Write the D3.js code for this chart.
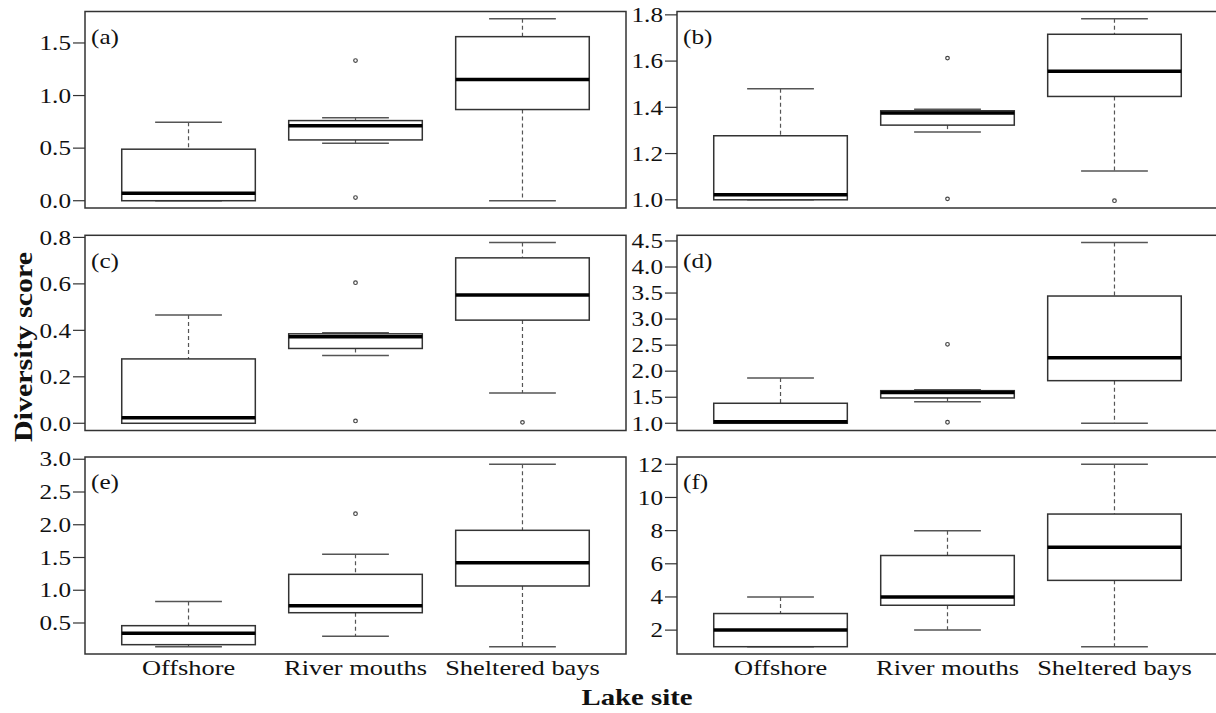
<!DOCTYPE html>
<html>
<head>
  <meta charset="utf-8">
  <title>Diversity score by lake site</title>
  <script src="https://d3js.org/d3.v7.min.js"></script>
  <style>
    body { margin: 0; background: #fff; }
    text { font-family: "Liberation Serif", "Times New Roman", serif; fill: #111; }
    .frame { fill: none; stroke: #333; stroke-width: 1.5px; }
    .box { fill: #fff; stroke: #333; stroke-width: 1.5px; }
    .median { stroke: #000; stroke-width: 3.5px; }
    .whisker { stroke: #555; stroke-width: 1.2px; stroke-dasharray: 4,3; }
    .cap { stroke: #555; stroke-width: 1.5px; }
    .outlier { fill: none; stroke: #444; stroke-width: 1.2px; }
    .tick line { stroke: #333; stroke-width: 1.2px; }
  </style>
</head>
<body>
<script>
  // Groups on the x axis, panel tags and y ticks
  const categories = ["Offshore", "River mouths", "Sheltered bays"];
  const panelLabels = ["(a)", "(b)", "(c)", "(d)", "(e)", "(f)"];
  const yTicks = [
    [0, 0.5, 1.0, 1.5],
    [1.0, 1.2, 1.4, 1.6, 1.8],
    [0, 0.2, 0.4, 0.6, 0.8],
    [1.0, 1.5, 2.0, 2.5, 3.0, 3.5, 4.0, 4.5],
    [0.5, 1.0, 1.5, 2.0, 2.5, 3.0],
    [2, 4, 6, 8, 10, 12]
  ];
  const tickFormats = [".1f", ".1f", ".1f", ".1f", ".1f", "d"];

  // Box statistics, one row per panel, one value per category
  const lowerWhisker = [
    [0.00, 0.547, 0.00],
    [1.00, 1.293, 1.125],
    [0.00, 0.292, 0.13],
    [1.00, 1.415, 1.00],
    [0.138, 0.297, 0.138],
    [1, 2, 1]
  ];
  const lowerHinge = [
    [0.00, 0.578, 0.867],
    [1.00, 1.323, 1.447],
    [0.00, 0.322, 0.444],
    [1.00, 1.486, 1.818],
    [0.169, 0.657, 1.065],
    [1, 3.5, 5]
  ];
  const medians = [
    [0.07, 0.714, 1.152],
    [1.022, 1.375, 1.556],
    [0.024, 0.372, 0.552],
    [1.03, 1.59, 2.26],
    [0.343, 0.764, 1.42],
    [2, 4, 7]
  ];
  const upperHinge = [
    [0.49, 0.762, 1.56],
    [1.277, 1.385, 1.716],
    [0.277, 0.385, 0.712],
    [1.384, 1.626, 3.443],
    [0.459, 1.243, 1.915],
    [3, 6.5, 9]
  ];
  const upperWhisker = [
    [0.746, 0.79, 1.73],
    [1.48, 1.392, 1.783],
    [0.466, 0.39, 0.778],
    [1.87, 1.645, 4.47],
    [0.83, 1.549, 2.923],
    [4, 8, 12]
  ];
  const outliers = [
    [[], [1.333, 0.03], []],
    [[], [1.613, 1.004], [0.996]],
    [[], [0.605, 0.01], [0.004]],
    [[], [2.516, 1.02], []],
    [[], [2.169], []],
    [[], [], []]
  ];

  const width = 1216, height = 713;
  const cols = [[85, 626], [677, 1218]];
  const rows = [[11.5, 208], [235.3, 430.5], [457, 654]];
  const sx = 1.2; // glyphs in the figure run wider than the serif face

  const svg = d3.select("body").append("svg")
      .attr("width", width)
      .attr("height", height);

  panelLabels.forEach(function(tag, p) {
    const [x0, x1] = cols[p % 2];
    const [y0, y1] = rows[Math.floor(p / 2)];

    // R style limits: 4% padding around the data range
    const vals = [].concat(lowerWhisker[p], upperWhisker[p], ...outliers[p]);
    const lo = d3.min(vals), hi = d3.max(vals), pad = (hi - lo) * 0.04;
    const y = d3.scaleLinear().domain([lo - pad, hi + pad]).range([y1, y0]);
    const x = d3.scaleLinear().domain([0.38, 3.62]).range([x0, x1]);
    const g = svg.append("g");

    // y axis with outward ticks
    const fmt = d3.format(tickFormats[p]);
    const ax = g.append("g").selectAll(".tick")
      .data(yTicks[p])
      .enter().append("g")
        .attr("class", "tick")
        .attr("transform", d => `translate(${x0},${y(d)})`);
    ax.append("line").attr("x1", -12).attr("x2", 0);
    ax.append("text")
      .attr("transform", `translate(-14,0) scale(${sx},1)`)
      .attr("text-anchor", "end")
      .attr("dominant-baseline", "central")
      .style("font-size", "21px")
      .text(d => fmt(d));

    const grp = g.selectAll(".grp")
      .data(categories)
      .enter().append("g");

    // dashed whiskers
    grp.append("line").attr("class", "whisker")
      .attr("x1", (d, i) => x(i + 1)).attr("x2", (d, i) => x(i + 1))
      .attr("y1", (d, i) => y(upperWhisker[p][i])).attr("y2", (d, i) => y(upperHinge[p][i]));
    grp.append("line").attr("class", "whisker")
      .attr("x1", (d, i) => x(i + 1)).attr("x2", (d, i) => x(i + 1))
      .attr("y1", (d, i) => y(lowerHinge[p][i])).attr("y2", (d, i) => y(lowerWhisker[p][i]));

    // staples
    grp.append("line").attr("class", "cap")
      .attr("x1", (d, i) => x(i + 0.8)).attr("x2", (d, i) => x(i + 1.2))
      .attr("y1", (d, i) => y(upperWhisker[p][i])).attr("y2", (d, i) => y(upperWhisker[p][i]));
    grp.append("line").attr("class", "cap")
      .attr("x1", (d, i) => x(i + 0.8)).attr("x2", (d, i) => x(i + 1.2))
      .attr("y1", (d, i) => y(lowerWhisker[p][i])).attr("y2", (d, i) => y(lowerWhisker[p][i]));

    // boxes and medians
    grp.append("rect").attr("class", "box")
      .attr("x", (d, i) => x(i + 0.6))
      .attr("width", (d, i) => x(i + 1.4) - x(i + 0.6))
      .attr("y", (d, i) => y(upperHinge[p][i]))
      .attr("height", (d, i) => y(lowerHinge[p][i]) - y(upperHinge[p][i]));
    grp.append("line").attr("class", "median")
      .attr("x1", (d, i) => x(i + 0.6)).attr("x2", (d, i) => x(i + 1.4))
      .attr("y1", (d, i) => y(medians[p][i])).attr("y2", (d, i) => y(medians[p][i]));

    // outliers
    grp.each(function(d, i) {
      d3.select(this).selectAll("circle")
        .data(outliers[p][i])
        .enter().append("circle")
          .attr("class", "outlier")
          .attr("cx", x(i + 1))
          .attr("cy", v => y(v))
          .attr("r", 1.8);
    });

    g.append("rect").attr("class", "frame")
      .attr("x", x0).attr("y", y0)
      .attr("width", x1 - x0).attr("height", y1 - y0);

    g.append("text")
      .attr("transform", `translate(${x0 + 6},${y0 + 25}) scale(${sx},1)`)
      .attr("dominant-baseline", "central")
      .style("font-size", "21px")
      .text(tag);

    // category labels only under the bottom row
    if (p >= 4) {
      g.selectAll(".cat")
        .data(categories)
        .enter().append("text")
          .attr("transform", (d, i) => `translate(${x(i + 1)},675) scale(${sx},1)`)
          .attr("text-anchor", "middle")
          .style("font-size", "22px")
          .text(d => d);
    }
  });

  svg.append("text")
    .attr("transform", `translate(637,705) scale(${sx},1)`)
    .attr("text-anchor", "middle")
    .style("font-size", "24px")
    .style("font-weight", "bold")
    .text("Lake site");

  svg.append("text")
    .attr("transform", `translate(32,347) rotate(-90) scale(${sx},1)`)
    .attr("text-anchor", "middle")
    .style("font-size", "25px")
    .style("font-weight", "bold")
    .text("Diversity score");
</script>
</body>
</html>
